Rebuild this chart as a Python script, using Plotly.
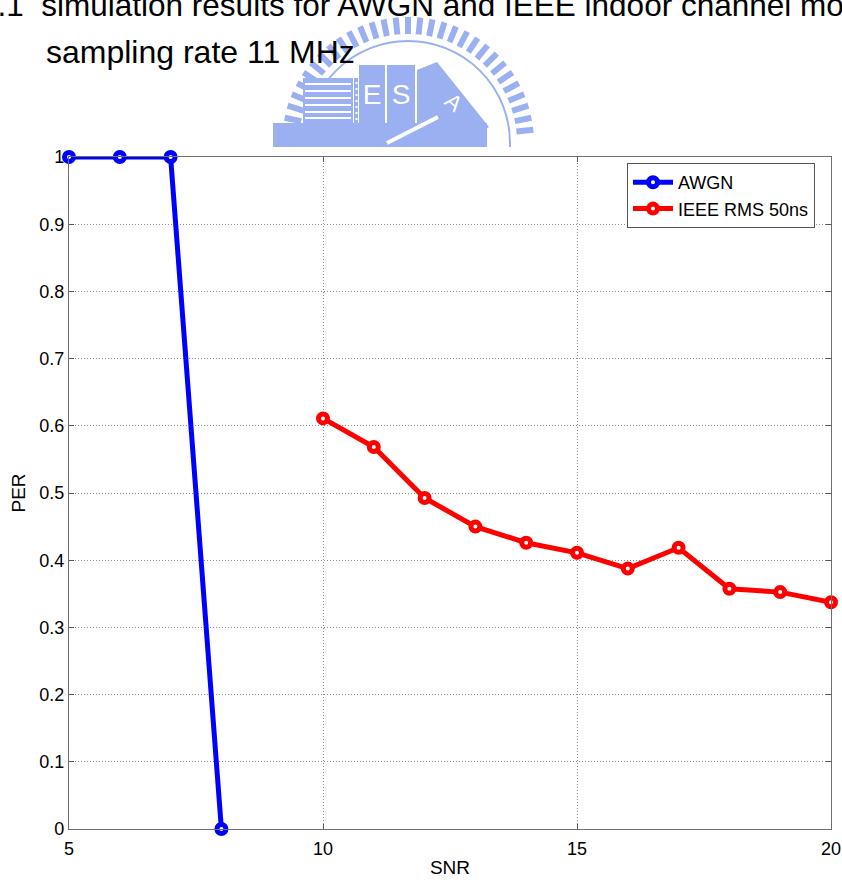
import base64
import math
import plotly.graph_objects as go

# Packet error rate versus SNR
snr_awgn = [5, 6, 7, 8]
per_awgn = [1.0, 1.0, 1.0, 0.0]

snr_ieee = [10, 11, 12, 13, 14, 15, 16, 17, 18, 19, 20]
per_ieee = [0.611, 0.5685, 0.4925, 0.45, 0.426, 0.411, 0.3875, 0.4185, 0.3575, 0.3525, 0.3375]

x_ticks = [5, 10, 15, 20]
y_ticks = [0, 0.1, 0.2, 0.3, 0.4, 0.5, 0.6, 0.7, 0.8, 0.9, 1]
y_tick_text = ["0", "0.1", "0.2", "0.3", "0.4", "0.5", "0.6", "0.7", "0.8", "0.9", "1"]

FONT = "Liberation Sans, Arial, Helvetica, sans-serif"
W, H = 842, 884
L, R, T, B = 69, 11, 157, 55
PW, PH = W - L - R, H - T - B


def px(x):
    return (x - L) / PW


def py(y):
    return (H - B - y) / PH


# faded university emblem drawn behind the heading
LOGO = "#9bb0f0"
teeth = []
for k in range(31):
    a = math.radians(6 + k * 5.6)
    x1, y1 = 148 + 109 * math.cos(a), 143 - 109 * math.sin(a)
    x2, y2 = 148 + 126 * math.cos(a), 143 - 126 * math.sin(a)
    teeth.append(f'<line x1="{x1:.1f}" y1="{y1:.1f}" x2="{x2:.1f}" y2="{y2:.1f}" '
                 f'stroke="{LOGO}" stroke-width="6"/>')
stripes = "".join(
    f'<line x1="45" y1="{yy}" x2="91" y2="{yy}" stroke="white" stroke-width="2"/>'
    for yy in (84, 91, 98, 105, 112, 118))
dots = "".join(f'<rect x="95.5" y="{yy}" width="2" height="2" fill="white"/>'
               for yy in range(82, 122, 6))
svg = f'''<svg xmlns="http://www.w3.org/2000/svg" width="300" height="160" viewBox="0 0 300 160">
<defs><clipPath id="c"><rect x="0" y="0" width="300" height="147"/></clipPath></defs>
<g clip-path="url(#c)">
{''.join(teeth)}
<circle cx="148" cy="143" r="102" fill="none" stroke="{LOGO}" stroke-width="2"/>
<rect x="13" y="123" width="214" height="30" fill="{LOGO}"/>
<rect x="43" y="78" width="50" height="45" fill="{LOGO}"/>
{stripes}
<rect x="94" y="78" width="4" height="45" fill="{LOGO}"/>
{dots}
<rect x="99" y="65" width="26" height="58" fill="{LOGO}"/>
<rect x="127" y="65" width="28" height="58" fill="{LOGO}"/>
<polygon points="157,70 177,62 229,127 206,140 157,123" fill="{LOGO}"/>
<text x="112" y="104" font-family="Liberation Sans, Arial" font-size="28" fill="white" text-anchor="middle">E</text>
<text x="141" y="104" font-family="Liberation Sans, Arial" font-size="28" fill="white" text-anchor="middle">S</text>
<text x="0" y="0" font-family="Liberation Sans, Arial" font-size="22" fill="white" text-anchor="middle" transform="translate(189,108) rotate(40)">A</text>
<line x1="127" y1="143" x2="178" y2="117" stroke="white" stroke-width="4"/>
</g></svg>'''
logo_uri = "data:image/svg+xml;base64," + base64.b64encode(svg.encode()).decode()

fig = go.Figure()

fig.add_trace(go.Scatter(
    x=snr_awgn, y=per_awgn, name="AWGN", mode="lines+markers",
    line=dict(color="#0000ff", width=5),
    marker=dict(symbol="circle", size=9, color="white", line=dict(color="#0000ff", width=5)),
    cliponaxis=False,
))
fig.add_trace(go.Scatter(
    x=snr_ieee, y=per_ieee, name="IEEE RMS 50ns", mode="lines+markers",
    line=dict(color="#ff0000", width=5),
    marker=dict(symbol="circle", size=9, color="white", line=dict(color="#ff0000", width=5)),
    cliponaxis=False,
))

axis_common = dict(
    showline=True, linecolor="#6e6e6e", linewidth=1.2, mirror="ticks",
    ticks="inside", ticklen=5, tickcolor="#555555",
    showgrid=True, gridcolor="#8c8c8c", gridwidth=1, griddash="1px,2px",
    zeroline=False, automargin=False,
    tickfont=dict(family=FONT, size=18, color="black"),
)

fig.update_layout(
    width=W, height=H,
    margin=dict(l=L, r=R, t=T, b=B, pad=0, autoexpand=False),
    paper_bgcolor="white", plot_bgcolor="white",
    font=dict(family=FONT, color="black"),
    xaxis=dict(range=[5, 20], tickvals=x_ticks, ticktext=[str(v) for v in x_ticks],
               ticklabelstandoff=3,
               title=dict(text="SNR", font=dict(size=19), standoff=2), **axis_common),
    yaxis=dict(range=[0, 1], tickvals=y_ticks, ticktext=y_tick_text,
               title=dict(text="PER", font=dict(size=19), standoff=8), **axis_common),
    legend=dict(
        x=px(627), y=py(163), xanchor="left", yanchor="top",
        bgcolor="white", bordercolor="#555555", borderwidth=1,
        font=dict(family=FONT, size=18, color="black"),
        tracegroupgap=0, itemwidth=40,
    ),
    showlegend=True,
    images=[dict(
        source=logo_uri, xref="paper", yref="paper",
        x=px(260), y=py(0), sizex=300 / PW, sizey=160 / PH,
        xanchor="left", yanchor="top", sizing="stretch", layer="below",
    )],
    annotations=[
        dict(text="4.1\u00a0 simulation results for AWGN and IEEE indoor channel model",
             xref="paper", yref="paper", x=px(-22), y=py(4.5),
             xanchor="left", yanchor="middle", showarrow=False,
             font=dict(family=FONT, size=31.5, color="black")),
        dict(text="sampling rate 11 MHz",
             xref="paper", yref="paper", x=px(44), y=py(52),
             xanchor="left", yanchor="middle", showarrow=False,
             font=dict(family=FONT, size=32, color="black")),
    ],
)

fig.write_html("out.html")
